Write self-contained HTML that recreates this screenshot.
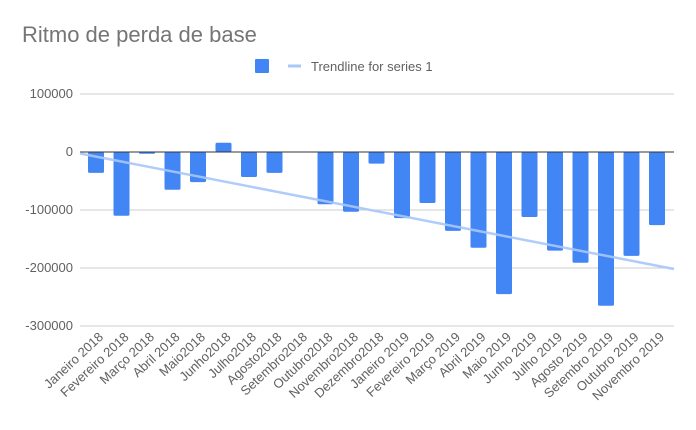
<!DOCTYPE html>
<html><head><meta charset="utf-8"><style>body{margin:0;background:#fff}svg{display:block}text{font-family:"Liberation Sans",Roboto,sans-serif}</style></head><body>
<svg width="696" height="430" xmlns="http://www.w3.org/2000/svg">
<text x="22" y="42" font-size="22" fill="#757575">Ritmo de perda de base</text>
<rect x="255" y="59" width="14" height="14" rx="1" fill="#4285f4"/>
<line x1="288" y1="66" x2="301" y2="66" stroke="#a8c7fa" stroke-width="3"/>
<text x="311" y="71" font-size="13" fill="#616161">Trendline for series 1</text>
<g stroke="#cccccc" stroke-width="1">
<line x1="80" y1="94" x2="674" y2="94"/>
<line x1="80" y1="210" x2="674" y2="210"/>
<line x1="80" y1="268" x2="674" y2="268"/>
<line x1="80" y1="326" x2="674" y2="326"/>
</g>
<g font-size="13" fill="#616161" text-anchor="end">
<text x="73" y="98">100000</text>
<text x="73" y="156">0</text>
<text x="73" y="214">-100000</text>
<text x="73" y="272">-200000</text>
<text x="73" y="330">-300000</text>
</g>
<g id="bars" fill="#4285f4"></g>
<line x1="80" y1="152" x2="674" y2="152" stroke="#333" stroke-width="1"/>
<line x1="80" y1="153.5" x2="674" y2="269" stroke="#a8c7fa" stroke-width="2.5" opacity="0.9"/>
<g id="labels" font-size="13" fill="#616161" text-anchor="end"></g>
<script>
var v=[-36,-110,-3,-65,-52,16,-43,-36,0,-90,-103,-20,-114,-88,-136,-165,-245,-112,-170,-191,-265,-179,-126];
var n=["Janeiro 2018","Fevereiro 2018","Março 2018","Abril 2018","Maio2018","Junho2018","Julho2018","Agosto2018","Setembro2018","Outubro2018","Novembro2018","Dezembro2018","Janeiro 2019","Fevereiro 2019","Março 2019","Abril 2019","Maio 2019","Junho 2019","Julho 2019","Agosto 2019","Setembro 2019","Outubro 2019","Novembro 2019"];
var ns="http://www.w3.org/2000/svg",b=document.getElementById("bars"),l=document.getElementById("labels");
for(var i=0;i<23;i++){var cx=96+i*25.5,y=152-v[i]*0.58;
if(v[i]!=0){var r=document.createElementNS(ns,"rect");r.setAttribute("x",cx-8);r.setAttribute("width",16);r.setAttribute("y",Math.min(152,y));r.setAttribute("height",Math.abs(y-152));r.setAttribute("rx",1.5);b.appendChild(r);}
var t=document.createElementNS(ns,"text");t.setAttribute("transform","translate("+(cx+8)+",338) rotate(-43)");t.textContent=n[i];l.appendChild(t);}
</script>
</svg>
</body></html>
